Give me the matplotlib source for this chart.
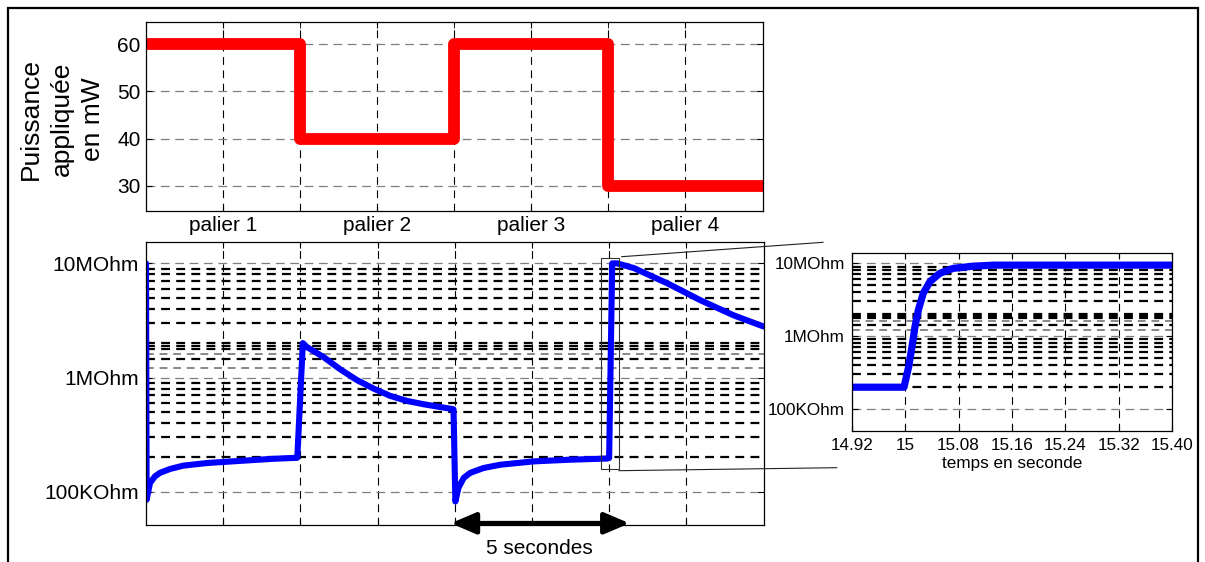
import matplotlib
matplotlib.use('Agg')
import matplotlib.pyplot as plt
from matplotlib.ticker import FixedLocator, NullFormatter
from matplotlib.patches import Rectangle
from matplotlib.lines import Line2D

plt.rcParams['font.family'] = ['Liberation Sans', 'DejaVu Sans']

# ---------------- data ----------------
step_t = [0, 5, 10, 15, 20]
step_p = [60, 40, 60, 30, 30]
p_ticks = [30, 40, 50, 60]
palier_pos = [2.5, 7.5, 12.5, 17.5]
palier_labels = ['palier 1', 'palier 2', 'palier 3', 'palier 4']

t_main = [0, 0.02, 0.13, 0.29, 0.45, 0.78, 1.21, 1.97, 3.05, 4.13, 4.9,
          5.08, 5.21, 5.75, 6.29, 6.83, 7.37, 7.91, 8.45, 8.99, 9.96,
          10.02, 10.12, 10.29, 10.5, 10.93, 11.47, 12.55, 13.64, 14.93, 15.0,
          15.1, 15.26, 15.8, 16.88, 17.96, 19.04, 20.0]
r_main = [1.0e7, 8.5e4, 1.19e5, 1.36e5, 1.46e5, 1.58e5, 1.69e5, 1.78e5, 1.86e5, 1.94e5, 1.98e5,
          2.0e6, 1.85e6, 1.51e6, 1.18e6, 9.5e5, 8.0e5, 6.9e5, 6.24e5, 5.83e5, 5.27e5,
          8.2e4, 1.08e5, 1.32e5, 1.46e5, 1.61e5, 1.72e5, 1.84e5, 1.9e5, 1.95e5, 1.97e5,
          1.0e7, 1.0e7, 9.1e6, 6.7e6, 4.75e6, 3.5e6, 2.8e6]

t_zoom = [14.92, 14.96, 14.998, 15.005, 15.01, 15.0145, 15.0196, 15.027, 15.037,
          15.052, 15.072, 15.102, 15.132, 15.2, 15.3, 15.4]
r_zoom = [1.99e5, 1.99e5, 1.99e5, 3.8e5, 7.2e5, 1.35e6, 2.29e6, 3.89e6, 5.6e6,
          7.3e6, 8.5e6, 9.1e6, 9.4e6, 9.4e6, 9.4e6, 9.4e6]

zoom_ticks = [14.92, 15.0, 15.08, 15.16, 15.24, 15.32, 15.40]
zoom_tick_labels = ['14.92', '15', '15.08', '15.16', '15.24', '15.32', '15.40']
r_ticks = [1e5, 1e6, 1e7]
r_tick_labels = ['100KOhm', '1MOhm', '10MOhm']
x_grid = [2.5, 5, 7.5, 10, 12.5, 15, 17.5]

# dense log grid lines
r_minor = [2e5, 3e5, 4e5, 5e5, 6e5, 7e5, 8e5, 9e5, 1e6, 1.44e6, 1.79e6, 1.9e6,
           2e6, 3e6, 4e6, 5e6, 6e6, 7e6, 8e6, 9e6, 1e7]
r_grey = [1.22e6, 1.62e6]

W, H = 1205, 562
fig = plt.figure(figsize=(W / 100, H / 100), dpi=100)


def px_rect(l, t, r, b):
    return [l / W, 1 - b / H, (r - l) / W, (b - t) / H]


ax1 = fig.add_axes(px_rect(146, 21.7, 762.5, 210.7))
ax2 = fig.add_axes(px_rect(146, 242.3, 763.5, 525))
ax3 = fig.add_axes(px_rect(852, 253, 1172, 431))

for ax in (ax1, ax2, ax3):
    for s in ax.spines.values():
        s.set_linewidth(0.9)
    ax.tick_params(direction='in', length=4, width=0.8, top=True, right=True)

black_dash = dict(color='k', lw=0.8, ls=(0, (7, 5)))
grey_dash = dict(color='#7f7f7f', lw=0.9, ls=(0, (7, 4.5)))
minor_dash = dict(color='k', lw=1.6, ls=(0, (4, 2.8)))

# ---------------- top panel ----------------
ax1.step(step_t, step_p, where='post', color='#ff0000', lw=8.5,
         solid_joinstyle='round', solid_capstyle='butt')
ax1.set_xlim(0, 20)
ax1.set_ylim(24.7, 64.8)
ax1.set_yticks(p_ticks)
ax1.set_xticks(palier_pos)
ax1.set_xticklabels(palier_labels)
ax1.xaxis.set_minor_locator(FixedLocator([5, 10, 15]))
ax1.tick_params(axis='both', which='major', labelsize=15, pad=4)
ax1.tick_params(axis='x', which='minor', direction='in', length=4, top=True)
ax1.grid(axis='y', **grey_dash)
ax1.grid(axis='x', which='both', **black_dash)
fig.text(62 / W, 1 - 119 / H, 'Puissance\nappliquée\nen mW', rotation=90,
         ha='center', va='center', multialignment='center', fontsize=19,
         linespacing=1.38)

# ---------------- bottom panel ----------------
ax2.set_yscale('log')
ax2.plot(t_main, r_main, color='#0000ff', lw=4.4, solid_joinstyle='round',
         solid_capstyle='round')
ax2.set_xlim(0, 20)
ax2.set_ylim(5.1e4, 1.53e7)
ax2.set_yticks(r_ticks)
ax2.set_yticklabels(r_tick_labels)
ax2.yaxis.set_minor_locator(FixedLocator(r_minor))
ax2.yaxis.set_minor_formatter(NullFormatter())
ax2.tick_params(axis='y', which='minor', length=0)
ax2.set_xticks(x_grid)
ax2.set_xticklabels([])
ax2.tick_params(axis='both', which='major', labelsize=15, pad=5)
ax2.grid(axis='y', which='major', **grey_dash)
ax2.grid(axis='y', which='minor', **minor_dash)
ax2.grid(axis='x', which='major', **black_dash)
for g in r_grey:
    ax2.axhline(g, color='#888888', lw=1.4, ls=(0, (4, 3)), zorder=1.5)

ax2.add_patch(Rectangle((14.73, 1.58e5), 15.31 - 14.73, 1.106e7 - 1.58e5,
                        fill=False, ec='#333333', lw=0.8, clip_on=False, zorder=3))

ax2.annotate('', xy=(15.66, 0.006), xytext=(9.87, 0.006),
             xycoords=('data', 'axes fraction'), textcoords=('data', 'axes fraction'),
             arrowprops=dict(arrowstyle='<|-|>,head_length=0.75,head_width=0.32',
                             lw=3.5, color='k', mutation_scale=20,
                             shrinkA=0, shrinkB=0),
             annotation_clip=False)
fig.text(539 / W, 1 - 548 / H, '5 secondes', ha='center', va='center', fontsize=15)

# connector lines
fig.add_artist(Line2D([621.7 / W, 823 / W], [1 - 256.7 / H, 1 - 242.3 / H],
                      transform=fig.transFigure, color='#222222', lw=0.8))
fig.add_artist(Line2D([619 / W, 836.7 / W], [1 - 470.7 / H, 1 - 467.7 / H],
                      transform=fig.transFigure, color='#222222', lw=0.8))

# ---------------- inset ----------------
ax3.set_yscale('log')
ax3.plot(t_zoom, r_zoom, color='#0000ff', lw=5.2, solid_joinstyle='round')
ax3.set_xlim(14.92, 15.40)
ax3.set_ylim(4.99e4, 1.38e7)
ax3.set_yticks(r_ticks)
ax3.set_yticklabels(r_tick_labels)
ax3.yaxis.set_minor_locator(FixedLocator(r_minor))
ax3.yaxis.set_minor_formatter(NullFormatter())
ax3.tick_params(axis='y', which='minor', length=0)
ax3.set_xticks(zoom_ticks)
ax3.set_xticklabels(zoom_tick_labels)
ax3.tick_params(axis='both', which='major', labelsize=12.3, pad=5)
ax3.grid(axis='y', which='major', **grey_dash)
ax3.grid(axis='y', which='minor', **minor_dash)
ax3.grid(axis='x', which='major', **black_dash)
for g in r_grey:
    ax3.axhline(g, color='#888888', lw=1.4, ls=(0, (4, 3)), zorder=1.5)
ax3.set_xlabel('temps en seconde', fontsize=12.3, labelpad=2)

# outer frame
fig.add_artist(Rectangle((8 / W, -0.02), (1198 - 8) / W, 1 - 8 / H + 0.02,
                         transform=fig.transFigure, fill=False, ec='k', lw=1.6))

fig.savefig('out.png', dpi=100)
